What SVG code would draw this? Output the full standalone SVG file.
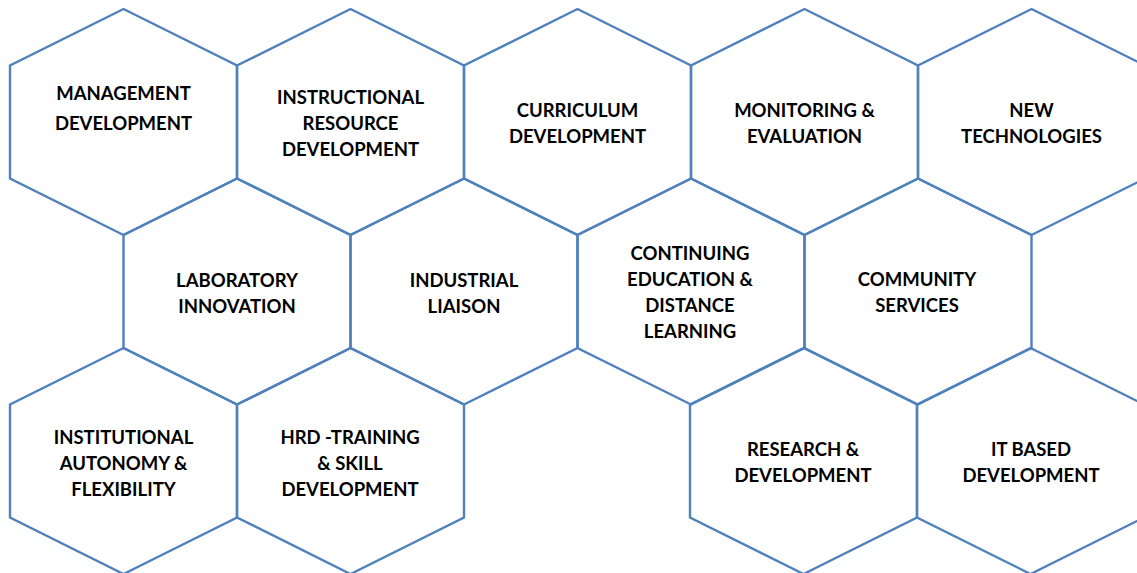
<svg xmlns="http://www.w3.org/2000/svg" xmlns:xlink="http://www.w3.org/1999/xlink" width="1137" height="573" viewBox="0 0 1137 573">
<style>
.hex{fill:none;stroke:#4F81BD;stroke-width:2.4;stroke-linejoin:miter}
.lbl{font-family:Lato,"Liberation Sans",sans-serif;font-weight:bold;font-size:18.5px;fill:#000;text-anchor:middle}
</style>
<defs>
<polygon id="hexshape" class="hex" points="113.5,0 227,56.5 227,169.5 113.5,226 0,169.5 0,56.5"/>
</defs>
<rect width="1137" height="573" fill="#fff"/>
<g id="connectors"></g>
<g id="n-management"><use xlink:href="#hexshape" x="10" y="9"/><text class="lbl"><tspan x="123.5" y="100">MANAGEMENT</tspan><tspan x="123.5" y="130">DEVELOPMENT</tspan></text></g>
<g id="n-instructional"><use xlink:href="#hexshape" x="237" y="9"/><text class="lbl"><tspan x="350.5" y="104">INSTRUCTIONAL</tspan><tspan x="350.5" y="130">RESOURCE</tspan><tspan x="350.5" y="156">DEVELOPMENT</tspan></text></g>
<g id="n-curriculum"><use xlink:href="#hexshape" x="464" y="9"/><text class="lbl"><tspan x="577.5" y="117">CURRICULUM</tspan><tspan x="577.5" y="143">DEVELOPMENT</tspan></text></g>
<g id="n-monitoring"><use xlink:href="#hexshape" x="691" y="9"/><text class="lbl"><tspan x="804.5" y="117">MONITORING &amp;</tspan><tspan x="804.5" y="143">EVALUATION</tspan></text></g>
<g id="n-newtech"><use xlink:href="#hexshape" x="918" y="9"/><text class="lbl"><tspan x="1031.5" y="117">NEW</tspan><tspan x="1031.5" y="143">TECHNOLOGIES</tspan></text></g>
<g id="n-laboratory"><use xlink:href="#hexshape" x="123.5" y="178.5"/><text class="lbl"><tspan x="237" y="287">LABORATORY</tspan><tspan x="237" y="313">INNOVATION</tspan></text></g>
<g id="n-industrial"><use xlink:href="#hexshape" x="350.5" y="178.5"/><text class="lbl"><tspan x="464" y="287">INDUSTRIAL</tspan><tspan x="464" y="313">LIAISON</tspan></text></g>
<g id="n-continuing"><use xlink:href="#hexshape" x="577.5" y="178.5"/><text class="lbl"><tspan x="690" y="260">CONTINUING</tspan><tspan x="690" y="286">EDUCATION &amp;</tspan><tspan x="690" y="312">DISTANCE</tspan><tspan x="690" y="338">LEARNING</tspan></text></g>
<g id="n-community"><use xlink:href="#hexshape" x="804.5" y="178.5"/><text class="lbl"><tspan x="917" y="286">COMMUNITY</tspan><tspan x="917" y="312">SERVICES</tspan></text></g>
<g id="n-institutional"><use xlink:href="#hexshape" x="10" y="348"/><text class="lbl"><tspan x="123.5" y="444">INSTITUTIONAL</tspan><tspan x="123.5" y="470">AUTONOMY &amp;</tspan><tspan x="123.5" y="496">FLEXIBILITY</tspan></text></g>
<g id="n-hrd"><use xlink:href="#hexshape" x="237" y="348"/><text class="lbl"><tspan x="350" y="444">HRD -TRAINING</tspan><tspan x="350" y="470">&amp; SKILL</tspan><tspan x="350" y="496">DEVELOPMENT</tspan></text></g>
<g id="n-research"><use xlink:href="#hexshape" x="690" y="348"/><text class="lbl"><tspan x="803" y="456">RESEARCH &amp;</tspan><tspan x="803" y="482">DEVELOPMENT</tspan></text></g>
<g id="n-itbased"><use xlink:href="#hexshape" x="917" y="348"/><text class="lbl"><tspan x="1031" y="456">IT BASED</tspan><tspan x="1031" y="482">DEVELOPMENT</tspan></text></g>
</svg>
